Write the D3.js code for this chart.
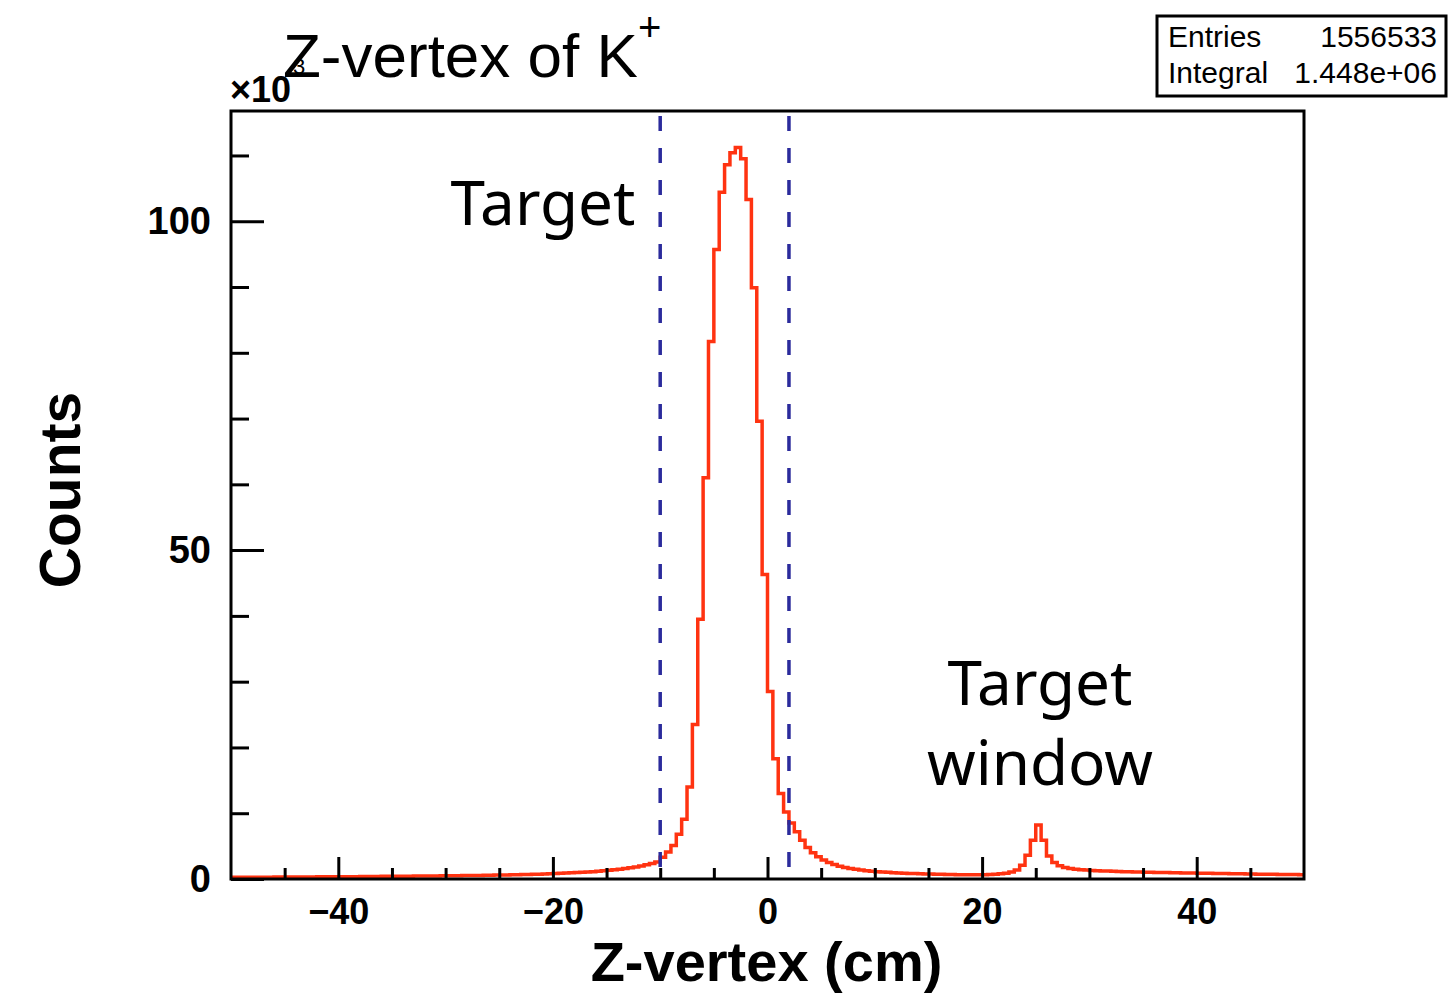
<!DOCTYPE html>
<html>
<head>
<meta charset="utf-8">
<script src="https://cdn.jsdelivr.net/npm/d3@7"></script>
<style>
    body { margin: 0; background: #fff; }
    svg { display: block; }
</style>
</head>
<body>
<div id="chart"></div>
<script>
// histogram range and binning (cm)
const xRange = [-50, 50];
const binWidth = 0.5;

// bin contents (x10^3), one value per 0.5 cm bin from -50 to 50
const counts = [
    // -50 .. -40.5
    0.25, 0.25, 0.26, 0.26, 0.27, 0.27, 0.28, 0.28, 0.29, 0.29,
    0.30, 0.30, 0.31, 0.31, 0.32, 0.32, 0.33, 0.33, 0.34, 0.34,
    // -40 .. -30.5
    0.35, 0.35, 0.36, 0.36, 0.37, 0.38, 0.38, 0.39, 0.40, 0.40,
    0.41, 0.42, 0.42, 0.43, 0.44, 0.45, 0.45, 0.46, 0.47, 0.48,
    // -30 .. -20.5
    0.49, 0.50, 0.51, 0.52, 0.53, 0.54, 0.55, 0.56, 0.58, 0.59,
    0.60, 0.62, 0.64, 0.66, 0.68, 0.70, 0.72, 0.74, 0.77, 0.80,
    // -20 .. -10.5
    0.83, 0.86, 0.90, 0.94, 0.98, 1.02, 1.07, 1.12, 1.18, 1.25,
    1.32, 1.40, 1.49, 1.58, 1.70, 1.82, 1.97, 2.15, 2.35, 2.60,
    // -10 .. -0.5
    3.3, 4.1, 5.1, 6.8, 9.1, 14.0, 23.5, 39.5, 61.0, 81.7,
    95.7, 104.4, 108.6, 110.4, 111.2, 109.5, 103.3, 89.9, 69.6, 46.3,
    // 0 .. 9.5
    28.5, 18.3, 13.0, 10.2, 8.5, 7.2, 5.9, 4.8, 4.0, 3.4,
    2.9, 2.5, 2.2, 1.95, 1.75, 1.6, 1.47, 1.36, 1.27, 1.19,
    // 10 .. 19.5
    1.12, 1.06, 1.01, 0.96, 0.92, 0.88, 0.85, 0.82, 0.79, 0.77,
    0.75, 0.73, 0.71, 0.69, 0.68, 0.66, 0.65, 0.64, 0.64, 0.65,
    // 20 .. 29.5
    0.66, 0.68, 0.72, 0.78, 0.88, 1.05, 1.35, 2.1, 3.6, 5.9,
    8.2, 5.9, 3.5, 2.5, 2.0, 1.75, 1.6, 1.5, 1.42, 1.36,
    // 30 .. 39.5
    1.31, 1.27, 1.23, 1.20, 1.17, 1.14, 1.12, 1.10, 1.08, 1.06,
    1.04, 1.02, 1.00, 0.98, 0.97, 0.95, 0.94, 0.92, 0.91, 0.90,
    // 40 .. 49.5
    0.88, 0.87, 0.86, 0.84, 0.83, 0.82, 0.80, 0.79, 0.78, 0.77,
    0.76, 0.74, 0.73, 0.72, 0.71, 0.70, 0.69, 0.68, 0.67, 0.66
];

// tick values
const xTicksMajor = [-40, -20, 0, 20, 40];
const xTicksMinor = [-45, -35, -30, -25, -15, -10, -5, 5, 10, 15, 25, 30, 35, 45];
const yTicksMajor = [0, 50, 100];
const yTicksMinor = [10, 20, 30, 40, 60, 70, 80, 90, 110];

// target cut (dashed lines)
const cutLines = [-10, 2];

// stats box rows
const statsRows = [["Entries", "1556533"], ["Integral", "1.448e+06"]];

const W = 1450, H = 994;
const frame = {left: 231, right: 1304, top: 111, bottom: 879};

const svg = d3.select("#chart")
    .append("svg")
    .attr("width", W)
    .attr("height", H);

const x = d3.scaleLinear()
    .domain(xRange)
    .range([frame.left, frame.right]);

const y = d3.scaleLinear()
    .domain([0, d3.max(counts) * 1.05])
    .range([frame.bottom, frame.top]);

// histogram outline
const points = [];
counts.forEach((c, i) => {
    const lo = xRange[0] + i * binWidth;
    points.push([lo, c]);
    points.push([lo + binWidth, c]);
});

svg.append("path")
    .datum(points)
    .attr("fill", "none")
    .attr("stroke", "#ff3311")
    .attr("stroke-width", 3.5)
    .attr("stroke-linejoin", "miter")
    .attr("d", d3.line().x(d => x(d[0])).y(d => y(d[1])));

// dashed cut lines
svg.selectAll(".cut")
    .data(cutLines)
    .enter()
    .append("line")
    .attr("class", "cut")
    .attr("x1", d => x(d))
    .attr("x2", d => x(d))
    .attr("y1", frame.top + 5)
    .attr("y2", frame.bottom)
    .attr("stroke", "#2b2b9c")
    .attr("stroke-width", 3.5)
    .attr("stroke-dasharray", "15,17");

// axes (ticks point inward)
const tickFont = "'Liberation Sans', Arial, Helvetica, sans-serif";

const xAxisMajor = svg.append("g")
    .attr("transform", "translate(0," + frame.bottom + ")")
    .call(d3.axisBottom(x).tickValues(xTicksMajor).tickSize(-22).tickPadding(0)
        .tickFormat(d => d < 0 ? "\u2212" + Math.abs(d) : d));
svg.append("g")
    .attr("transform", "translate(0," + frame.bottom + ")")
    .call(d3.axisBottom(x).tickValues(xTicksMinor).tickSize(-11).tickFormat(""));

const yAxisMajor = svg.append("g")
    .attr("transform", "translate(" + frame.left + ",0)")
    .call(d3.axisLeft(y).tickValues(yTicksMajor).tickSize(-33).tickPadding(20));
svg.append("g")
    .attr("transform", "translate(" + frame.left + ",0)")
    .call(d3.axisLeft(y).tickValues(yTicksMinor).tickSize(-18).tickFormat(""));

svg.selectAll(".domain").remove();
svg.selectAll(".tick line")
    .attr("stroke", "black")
    .attr("stroke-width", 3);

xAxisMajor.selectAll("text")
    .attr("y", 45)
    .attr("dy", 0)
    .attr("font-family", tickFont)
    .attr("font-weight", "bold")
    .attr("font-size", "36px")
    .attr("fill", "black");

yAxisMajor.selectAll("text")
    .attr("dy", "0.33em")
    .attr("font-family", tickFont)
    .attr("font-weight", "bold")
    .attr("font-size", "38px")
    .attr("fill", "black");

// frame
svg.append("rect")
    .attr("x", frame.left)
    .attr("y", frame.top)
    .attr("width", frame.right - frame.left)
    .attr("height", frame.bottom - frame.top)
    .attr("fill", "none")
    .attr("stroke", "black")
    .attr("stroke-width", 3);

// axis titles
svg.append("text")
    .attr("x", (frame.left + frame.right) / 2 - 1)
    .attr("y", 981)
    .attr("text-anchor", "middle")
    .attr("font-family", tickFont)
    .attr("font-weight", "bold")
    .attr("font-size", "56px")
    .text("Z-vertex (cm)");

svg.append("text")
    .attr("transform", "translate(80," + ((frame.top + frame.bottom) / 2 - 5) + ") rotate(-90)")
    .attr("text-anchor", "middle")
    .attr("font-family", tickFont)
    .attr("font-weight", "bold")
    .attr("font-size", "57px")
    .text("Counts");

// exponent label
svg.append("text")
    .attr("x", 230)
    .attr("y", 102)
    .attr("font-family", tickFont)
    .attr("font-weight", "bold")
    .attr("font-size", "36px")
    .text("\u00d710");
svg.append("text")
    .attr("x", 293)
    .attr("y", 74)
    .attr("font-family", tickFont)
    .attr("font-size", "22px")
    .text("3");

// title
const title = svg.append("text")
    .attr("x", 283)
    .attr("y", 77)
    .attr("font-family", tickFont)
    .attr("font-size", "62px")
    .text("Z-vertex of K");
title.append("tspan")
    .attr("dy", -36)
    .attr("font-size", "40px")
    .text("+");

// stats box
svg.append("rect")
    .attr("x", 1157)
    .attr("y", 16)
    .attr("width", 289)
    .attr("height", 80)
    .attr("fill", "white")
    .attr("stroke", "black")
    .attr("stroke-width", 3);

statsRows.forEach((row, i) => {
    svg.append("text")
        .attr("x", 1168)
        .attr("y", 47 + i * 36)
        .attr("font-family", tickFont)
        .attr("font-size", "30px")
        .text(row[0]);
    svg.append("text")
        .attr("x", 1437)
        .attr("y", 47 + i * 36)
        .attr("text-anchor", "end")
        .attr("font-family", tickFont)
        .attr("font-size", "30px")
        .text(row[1]);
});

// annotations
const noteFont = "'Noto Sans', 'Open Sans', sans-serif";
svg.append("text")
    .attr("x", 543)
    .attr("y", 225)
    .attr("text-anchor", "middle")
    .attr("font-family", noteFont)
    .attr("font-size", "62px")
    .text("Target");
svg.append("text")
    .attr("x", 1040)
    .attr("y", 705)
    .attr("text-anchor", "middle")
    .attr("font-family", noteFont)
    .attr("font-size", "62px")
    .text("Target");
svg.append("text")
    .attr("x", 1040)
    .attr("y", 785)
    .attr("text-anchor", "middle")
    .attr("font-family", noteFont)
    .attr("font-size", "62px")
    .text("window");
</script>
</body>
</html>
